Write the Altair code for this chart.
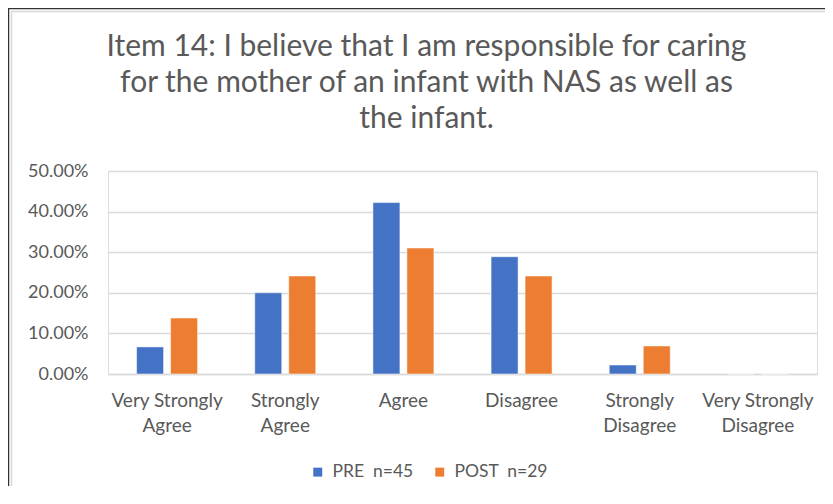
import altair as alt
import pandas as pd

categories = ["Very Strongly Agree", "Strongly Agree", "Agree", "Disagree",
              "Strongly Disagree", "Very Strongly Disagree"]
series = ["PRE\u00a0 n=45", "POST\u00a0 n=29"]
pre_values = [0.0667, 0.2000, 0.4222, 0.2889, 0.0222, 0.0]
post_values = [0.1379, 0.2414, 0.3103, 0.2414, 0.0690, 0.0]
colors = ["#4472C4", "#ED7D31"]
title_lines = ["Item 14: I believe that I am responsible for caring",
               "for the mother of an infant with NAS as well as",
               "the infant."]

rows = []
for c, p, q in zip(categories, pre_values, post_values):
    rows.append({"cat": c, "series": series[0], "value": p})
    rows.append({"cat": c, "series": series[1], "value": q})
df = pd.DataFrame(rows)

FONT = "Lato"
GREY = "#595959"

label_expr = ("indexof(datum.label, ' ') < 0 ? datum.label : "
              "[substring(datum.label, 0, lastindexof(datum.label, ' ')), "
              "substring(datum.label, lastindexof(datum.label, ' ') + 1)]")

bars = alt.Chart(df).mark_bar(stroke="white", strokeWidth=1, strokeOpacity=0.5).encode(
    x=alt.X("cat:N", sort=categories, title=None,
            scale=alt.Scale(paddingInner=0, paddingOuter=0),
            axis=alt.Axis(labelAngle=0, labelExpr=label_expr, labelFontSize=19,
                          labelColor=GREY, labelFont=FONT, labelLineHeight=25,
                          labelPadding=17, ticks=False, domainColor="#D9D9D9",
                          domainWidth=1.5, labelLimit=200)),
    xOffset=alt.XOffset("series:N", sort=series,
                        scale=alt.Scale(paddingInner=0.206, paddingOuter=0.841)),
    y=alt.Y("value:Q", title=None,
            scale=alt.Scale(domain=[0, 0.5]),
            axis=alt.Axis(format=".2%", values=[0, 0.1, 0.2, 0.3, 0.4, 0.5],
                          labelFontSize=18, labelColor=GREY, labelFont=FONT,
                          labelPadding=20, ticks=False, domain=False,
                          gridColor="#D9D9D9", gridWidth=1.5)),
    color=alt.Color("series:N", sort=series,
                    scale=alt.Scale(domain=series, range=colors),
                    legend=alt.Legend(title=None, orient="none", direction="horizontal",
                                      legendX=201, legendY=292, symbolType="square",
                                      symbolSize=80, symbolStrokeWidth=0,
                                      labelFontSize=17.5, labelColor=GREY, labelFont=FONT,
                                      columnPadding=17, labelOffset=6)),
)

frame_data = alt.Data(values=[{"a": 1}])
left_dark = alt.Chart(frame_data).mark_rule(color="#333333", strokeWidth=1.5).encode(
    x=alt.value(-99.5), y=alt.value(-163), y2=alt.value(323))
left_light = alt.Chart(frame_data).mark_rule(color="#D9D9D9", strokeWidth=1.5).encode(
    x=alt.value(-96.5), y=alt.value(-160), y2=alt.value(323))
top_dark = alt.Chart(frame_data).mark_rule(color="#333333", strokeWidth=1.5).encode(
    y=alt.value(-162.5), x=alt.value(-100), x2=alt.value(717))
top_light = alt.Chart(frame_data).mark_rule(color="#D9D9D9", strokeWidth=1.5).encode(
    y=alt.value(-159.5), x=alt.value(-97), x2=alt.value(717))

chart = alt.layer(left_light, top_light, left_dark, top_dark, bars).properties(
    width=709, height=203,
    autosize=alt.AutoSizeParams(type="none"),
    padding={"left": 100, "top": 163, "right": 8, "bottom": 112},
    title=alt.TitleParams(text=title_lines, anchor="middle", dx=-36, dy=127, fontSize=30,
                          font=FONT, fontWeight="normal", color=GREY,
                          lineHeight=36, offset=0),
).configure_view(stroke=None).configure(background="white")

chart.save("out.html", embed_options={"renderer": "svg", "actions": False})
